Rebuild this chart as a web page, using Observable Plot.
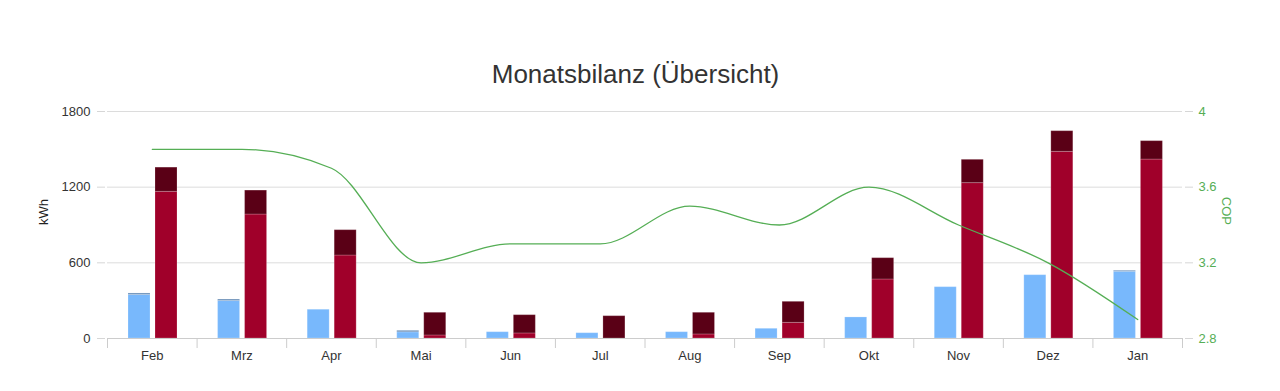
<!DOCTYPE html>
<html><head><meta charset="utf-8">
<script src="https://cdn.jsdelivr.net/npm/d3@7"></script>
<script src="https://cdn.jsdelivr.net/npm/@observablehq/plot@0.6"></script>
<style>
body{margin:0;background:#fff;font-family:"Liberation Sans",Arial,sans-serif;}
#wrap{position:relative;width:1280px;height:391px;overflow:hidden;}
#title{position:absolute;left:0;width:1271px;top:61px;text-align:center;font-size:26px;line-height:26px;color:#333;white-space:nowrap;}
#chart{position:absolute;left:0;top:95px;}
</style></head><body>
<div id="wrap"><div id="title">Monatsbilanz (Übersicht)</div><div id="chart"></div></div>
<script>
// ---- data ----
const months = ["Feb","Mrz","Apr","Mai","Jun","Jul","Aug","Sep","Okt","Nov","Dez","Jan"];
const stromBasis   = [345, 297, 228, 49, 50, 42, 50, 77, 167, 407, 502, 529];
const stromZusatz  = [12, 12, 0, 12, 0, 0, 0, 0, 0, 0, 0, 8];
const waermeHeiz   = [1163, 983, 658, 24, 40, 0, 32, 124, 468, 1232, 1480, 1419];
const waermeWW     = [192, 190, 201, 180, 145, 177, 172, 167, 169, 185, 164, 146];
const cop          = [3.8, 3.8, 3.7, 3.2, 3.3, 3.3, 3.5, 3.4, 3.6, 3.4, 3.2, 2.9];
const kwhTicks = [0, 600, 1200, 1800];
const copTicks = [2.8, 3.2, 3.6, 4];
const seriesNames = ["Strom", "Strom Zusatz", "Wärme Heizung", "Wärme Warmwasser"];
const seriesColors = ["#78b8fc", "#6a8fb8", "#a0002a", "#5a0016"];

// ---- layout ----
const W = 1280, H = 296, mL = 107, mR = 98, mT = 16, mB = 53;
const bw = (W - mL - mR) / months.length;
const kwhMax = kwhTicks[kwhTicks.length - 1];
const copMin = copTicks[0], copMax = copTicks[copTicks.length - 1];
const toKwh = c => (c - copMin) / (copMax - copMin) * kwhMax;
const fromKwh = k => String(+(copMin + k / kwhMax * (copMax - copMin)).toFixed(1));

const blueData = months.flatMap((m, i) => [
  {m, s: seriesNames[0], v: stromBasis[i]},
  {m, s: seriesNames[1], v: stromZusatz[i]}
]);
const redData = months.flatMap((m, i) => [
  {m, s: seriesNames[2], v: waermeHeiz[i]},
  {m, s: seriesNames[3], v: waermeWW[i]}
]);
const copData = months.map((m, i) => ({m, c: cop[i]}));

const green = "#55ae55";
const chart = Plot.plot({
  width: W, height: H,
  marginLeft: mL, marginRight: mR, marginTop: mT, marginBottom: mB,
  style: {fontFamily: '"Liberation Sans", Arial, sans-serif', fontSize: "13px", color: "#333", background: "#fff"},
  x: {domain: months, padding: 0, round: false, axis: null},
  y: {domain: [0, kwhMax], axis: null},
  color: {domain: seriesNames, range: seriesColors, legend: false},
  marks: [
    Plot.gridY(kwhTicks, {stroke: "#dcdcdc", strokeOpacity: 1}),
    Plot.axisY({ticks: kwhTicks, tickFormat: d => String(d), anchor: "left", tickSize: 8, tickPadding: 7, dx: -2, stroke: "#d6d6d6", fill: "#333", label: null, fontSize: 13}),
    Plot.axisY({ticks: copTicks.map(toKwh), tickFormat: fromKwh, anchor: "right", tickSize: 8, tickPadding: 6, dx: 2, stroke: "#d6d6d6", fill: green, label: null, fontSize: 13}),
    Plot.barY(blueData, {x: "m", y: "v", fill: "s", insetLeft: 21, insetRight: bw - 43, stroke: "#fff", strokeOpacity: 0.2}),
    Plot.barY(redData, {x: "m", y: "v", fill: "s", insetLeft: 48, insetRight: bw - 70, stroke: "#fff", strokeOpacity: 0.2}),
    Plot.ruleY([0], {stroke: "#cccccc"}),
    Plot.axisX({ticks: months, tickSize: 10, tickFormat: () => "", dx: -bw / 2, stroke: "#cccccc", label: null}),
    Plot.axisX({ticks: [months[months.length - 1]], tickSize: 10, tickFormat: () => "", dx: bw / 2, stroke: "#cccccc", label: null}),
    Plot.axisX({tickSize: 0, tickPadding: 12, fill: "#333", label: null, fontSize: 13}),
    Plot.line(copData, {x: "m", y: d => toKwh(d.c), curve: "monotone-x", stroke: green, strokeWidth: 1.3}),
    Plot.text(["kWh"], {frameAnchor: "left", dx: -64, rotate: -90, fill: "#222", fontSize: 13}),
    Plot.text(["COP"], {frameAnchor: "right", dx: 44, rotate: 90, fill: green, fontSize: 13})
  ]
});
document.getElementById("chart").appendChild(chart);
</script>
</body></html>
